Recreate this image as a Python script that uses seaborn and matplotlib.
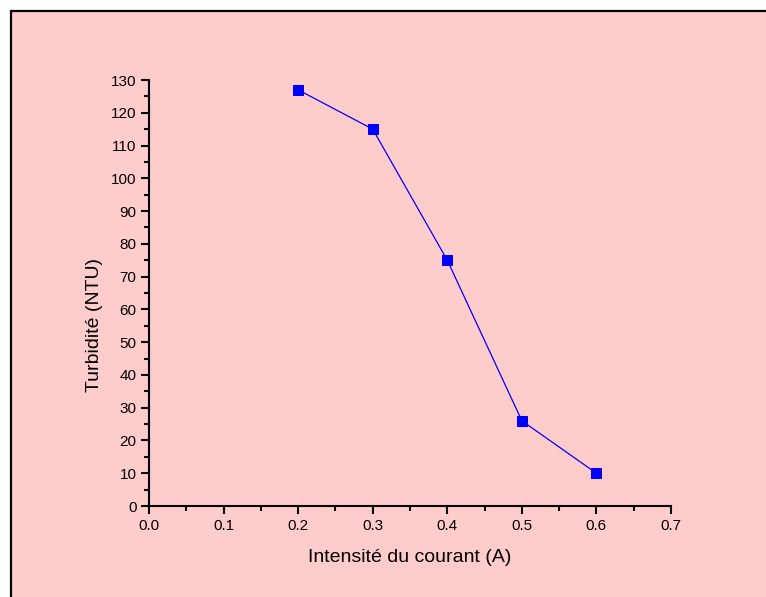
import matplotlib
matplotlib.use('Agg')
import matplotlib.pyplot as plt
import seaborn as sns
import pandas as pd
from matplotlib.patches import Rectangle
from matplotlib.ticker import MultipleLocator

intensite = [0.2, 0.3, 0.4, 0.5, 0.6]
turbidite = [127, 115, 75, 26, 10]

df = pd.DataFrame({'I': intensite, 'T': turbidite})

sns.set_style('ticks')
plt.rcParams['font.family'] = ['Liberation Sans', 'DejaVu Sans']
plt.rcParams['text.color'] = 'black'
plt.rcParams['axes.labelcolor'] = 'black'

fig = plt.figure(figsize=(7.66, 5.97), dpi=100, facecolor='white')
# pink panel with a black frame (only top and left edges visible)
fig.patches.append(Rectangle((11 / 766, -0.05), 1.1, 1.05 - 11 / 597,
                             transform=fig.transFigure, facecolor='#FFCCCC',
                             edgecolor='black', linewidth=1.6, zorder=-10))

ax = fig.add_axes([149 / 766, 91 / 597, 522 / 766, 426 / 597])
ax.set_zorder(5)
ax.set_facecolor('none')

sns.lineplot(data=df, x='I', y='T', ax=ax, color='blue', linewidth=0.9,
             marker='s', markersize=6.8, markeredgecolor='blue')

ax.set_xlim(0, 0.7)
ax.set_ylim(0, 130)
ax.xaxis.set_major_locator(MultipleLocator(0.1))
ax.xaxis.set_minor_locator(MultipleLocator(0.05))
ax.yaxis.set_major_locator(MultipleLocator(10))
ax.yaxis.set_minor_locator(MultipleLocator(5))
ax.xaxis.set_major_formatter(plt.FormatStrFormatter('%.1f'))

for s in ['top', 'right']:
    ax.spines[s].set_visible(False)
for s in ['left', 'bottom']:
    ax.spines[s].set_linewidth(1.5)
    ax.spines[s].set_color('black')

ax.tick_params(which='major', direction='out', length=6, width=1.5, labelsize=11,
               colors='black', labelcolor='black', pad=3)
ax.tick_params(which='minor', direction='out', length=3.5, width=1.5, colors='black')

ax.set_xlabel('Intensité du courant (A)', fontsize=14, labelpad=12, color='black')
ax.set_ylabel('Turbidité (NTU)', fontsize=14, labelpad=6, color='black', y=0.426)

fig.savefig('out.png', dpi=100, facecolor='white')
